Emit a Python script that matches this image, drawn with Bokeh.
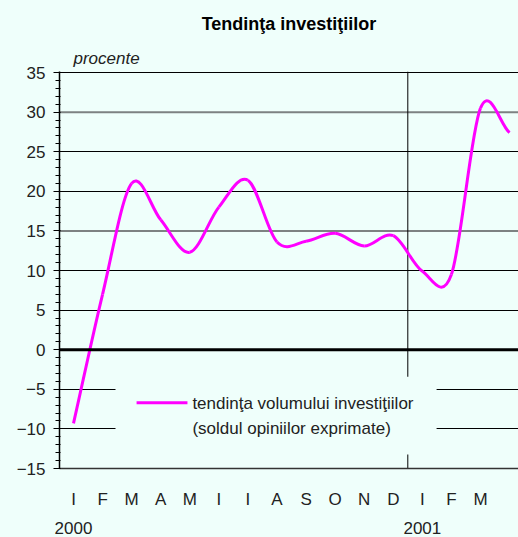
from bokeh.plotting import figure
from bokeh.models import (Range1d, LinearAxis, FixedTicker, SingleIntervalTicker,
                          Span, BoxAnnotation, Label, Arrow, Title)
from bokeh.embed import file_html
from bokeh.resources import INLINE

# ---------------- data ----------------
month_idx = list(range(16))            # Jan 2000 ... Apr 2001
values = [-9.3, 7.0, 21.0, 16.4, 12.3, 18.0, 21.4, 13.6,
          13.7, 14.7, 13.1, 14.4, 9.9, 9.5, 30.5, 27.4]
month_labels = ["I", "F", "M", "A", "M", "I", "I", "A", "S", "O", "N", "D", "I", "F", "M"]
year_ticks = [0, 12]
year_labels = ["2000", "2001"]
y_ticks = [-15, -10, -5, 0, 5, 10, 15, 20, 25, 30, 35]
y_tick_labels = ["\u221215", "\u221210", "\u22125", "0", "5", "10", "15", "20", "25", "30", "35"]
series_name = ["tendin\u0163a volumului investi\u0163iilor", "(soldul opiniilor exprimate)"]
title_text = "Tendin\u0163a investi\u0163iilor"
unit_text = "procente"

# ---------------- style ----------------
BG = "#EFFFFB"
MAG = "#FF00FF"
FONT = "Liberation Sans"
TXT = "#222222"

p = figure(width=518, height=537, output_backend="svg", toolbar_location=None,
           x_range=Range1d(-0.4816, 15.308), y_range=Range1d(-15, 35.13),
           min_border_left=59, min_border_right=0, min_border_top=71, min_border_bottom=69,
           background_fill_color=BG, border_fill_color=BG, outline_line_color=None,
           title_location=None)

try:
    from bokeh.models import GlobalInlineStyleSheet
    p.stylesheets = [GlobalInlineStyleSheet(css="html, body { background-color: %s; }" % BG)]
except Exception:
    pass

# titles
t_unit = Title(text=unit_text, align="left", offset=14, text_font=FONT, text_font_size="17px",
               text_font_style="italic", text_color=TXT, standoff=8)
p.add_layout(t_unit, "above")
t_main = Title(text=title_text, align="center", text_font=FONT, text_font_size="18px",
               text_font_style="bold", text_color="black", standoff=17)
p.add_layout(t_main, "above")

# y axis
yt = SingleIntervalTicker(interval=5, num_minor_ticks=5)
ya = p.yaxis[0]
ya.ticker = yt
ya.major_label_overrides = {t: l for t, l in zip(y_ticks, y_tick_labels)}
ya.axis_line_color = "black"
ya.axis_line_width = 1.5
ya.major_tick_out = 6
ya.major_tick_in = 0
ya.minor_tick_out = 4
ya.minor_tick_in = 1
ya.major_tick_line_color = "black"
ya.minor_tick_line_color = "black"
ya.major_label_text_font = FONT
ya.major_label_text_font_size = "17px"
ya.major_label_text_color = TXT
ya.major_label_standoff = 8

p.ygrid.ticker = yt
p.ygrid.grid_line_color = "black"
p.ygrid.grid_line_width = 1
p.xgrid.visible = False

# x axis (months)
xa = p.xaxis[0]
xa.ticker = FixedTicker(ticks=month_idx[:len(month_labels)])
xa.major_label_overrides = {i: l for i, l in zip(month_idx, month_labels)}
xa.axis_line_color = "#333333"
xa.axis_line_width = 1.5
xa.major_tick_line_color = None
xa.minor_tick_line_color = None
xa.major_label_text_font = FONT
xa.major_label_text_font_size = "17px"
xa.major_label_text_color = TXT
xa.major_label_standoff = 15

# x axis (years)
ya2 = LinearAxis(ticker=FixedTicker(ticks=year_ticks),
                 major_label_overrides={t: l for t, l in zip(year_ticks, year_labels)},
                 axis_line_color=None, major_tick_line_color=None, minor_tick_line_color=None,
                 major_label_text_font=FONT, major_label_text_font_size="17px",
                 major_label_text_color=TXT, major_label_standoff=4)
p.add_layout(ya2, "below")

# emphasised grid lines, zero line, year separator
for lv in (15, 30):
    p.add_layout(Span(location=lv, dimension="width", line_color="#7d8282", line_width=2,
                      level="underlay"))
p.add_layout(Span(location=11.5, dimension="height", line_color="black", line_width=1,
                  level="underlay"))
p.add_layout(Span(location=0, dimension="width", line_color="black", line_width=3))

# smoothed series (Catmull-Rom rendered as cubic Bezier segments)
n = len(values)
tang = []
for i in range(n):
    if i == 0:
        tang.append(values[1] - values[0])
    elif i == n - 1:
        tang.append(values[-1] - values[-2])
    else:
        tang.append((values[i + 1] - values[i - 1]) / 2.0)
x0 = month_idx[:-1]
x1 = month_idx[1:]
y0 = values[:-1]
y1 = values[1:]
cx0 = [x + 1 / 3 for x in x0]
cx1 = [x - 1 / 3 for x in x1]
cy0 = [values[i] + tang[i] / 3 for i in range(n - 1)]
cy1 = [values[i + 1] - tang[i + 1] / 3 for i in range(n - 1)]
p.bezier(x0=x0, y0=y0, x1=x1, y1=y1, cx0=cx0, cy0=cy0, cx1=cx1, cy1=cy1,
         line_color=MAG, line_width=3)

# legend (box hides the grid lines behind it)
p.add_layout(BoxAnnotation(left=1.445, right=12.49, top=-3.4, bottom=-13.24,
                           fill_color=BG, fill_alpha=1, line_color=None))
p.add_layout(Arrow(end=None, x_start=2.17, y_start=-6.7, x_end=3.92, y_end=-6.7,
                   line_color=MAG, line_width=3))
p.add_layout(Label(x=4.09, y=-6.75, text=series_name[0], text_font=FONT,
                   text_font_size="17px", text_color=TXT, text_baseline="middle"))
p.add_layout(Label(x=4.09, y=-10.0, text=series_name[1], text_font=FONT,
                   text_font_size="17px", text_color=TXT, text_baseline="middle"))

open("out.html", "w").write(file_html(p, INLINE))
